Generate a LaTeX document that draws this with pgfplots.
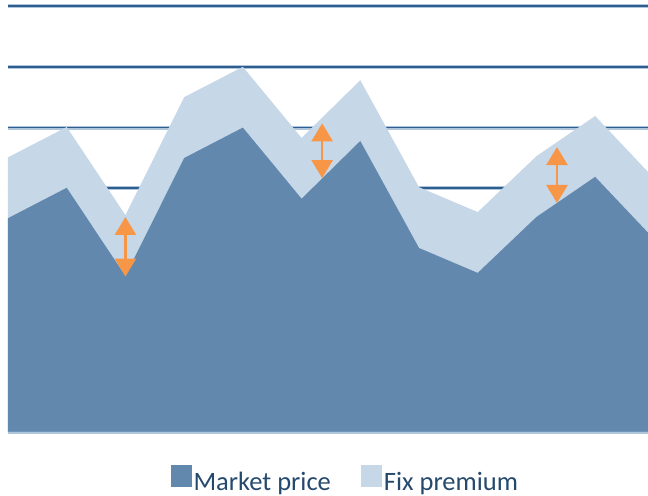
\documentclass[border=0pt]{standalone}
\usepackage{pgfplots}
\usepackage{pgfplotstable}
\pgfplotsset{compat=1.18}
\usepackage{fontspec}
\setmainfont{Carlito}
\usetikzlibrary{arrows.meta}
\definecolor{mdark}{HTML}{6388AD}
\definecolor{mlight}{HTML}{C6D7E8}
\definecolor{gridcore}{HTML}{2E5E8E}
\definecolor{gridhalo}{HTML}{AFC5DC}
\definecolor{arrorange}{HTML}{F79646}
\definecolor{txt}{HTML}{25496D}
\pgfplotstableread{
x m p
0 3.51 1.00
1 4.01 1.00
2 2.56 1.00
3 4.50 1.00
4 5.00 1.00
5 3.83 1.00
6 4.78 1.00
7 3.02 1.00
8 2.61 1.00
9 3.53 1.00
10 4.19 1.00
11 3.17 1.00
}\prices
\begin{document}
\begin{tikzpicture}
\begin{axis}[
  name=ax,
  scale only axis,
  width=640pt, height=425.6pt,
  xmin=0, xmax=10.9, ymin=0, ymax=7,
  axis line style={draw=none},
  tick style={draw=none},
  xtick=\empty,
  ytick={0,1,...,7},
  yticklabels={},
  ymajorgrids,
  major grid style={line width=1.8pt, gridcore, preaction={draw=gridhalo, line width=4pt}},
  legend columns=2,
  legend style={draw=none, fill=none, at={(axis description cs:0.527,-0.112)}, anchor=center,
    font=\fontsize{26.5}{30}\selectfont, text=txt,
    nodes={inner sep=2pt},
    /tikz/every even column/.append style={column sep=28pt}},
  legend image code/.code={\fill[#1] (0pt,-5pt) rectangle (21pt,17pt);},
]
\addplot[fill=mlight, draw=none, forget plot] table[x=x, y expr=\thisrow{m}+\thisrow{p}] {\prices} \closedcycle;
\addplot[fill=mdark, draw=none, forget plot] table[x=x, y=m] {\prices} \closedcycle;
\addplot[arrorange, line width=2.6pt, {Triangle[width=21pt,length=18pt]}-{Triangle[width=21pt,length=18pt]}, forget plot] coordinates {(2,2.55) (2,3.53)};
\addplot[arrorange, line width=2.6pt, {Triangle[width=21pt,length=18pt]}-{Triangle[width=21pt,length=18pt]}, forget plot] coordinates {(5.35,4.17) (5.35,5.07)};
\addplot[arrorange, line width=2.6pt, {Triangle[width=21pt,length=18pt]}-{Triangle[width=21pt,length=18pt]}, forget plot] coordinates {(9.35,3.76) (9.35,4.68)};
\addlegendimage{fill=mdark, draw=none}
\addlegendentry{Market price}
\addlegendimage{fill=mlight, draw=none}
\addlegendentry{Fix premium}
\end{axis}
\pgfresetboundingbox
\path ([shift={(-8pt,-64.3pt)}]ax.south west) rectangle ([shift={(0pt,6pt)}]ax.north east);
\end{tikzpicture}
\end{document}
